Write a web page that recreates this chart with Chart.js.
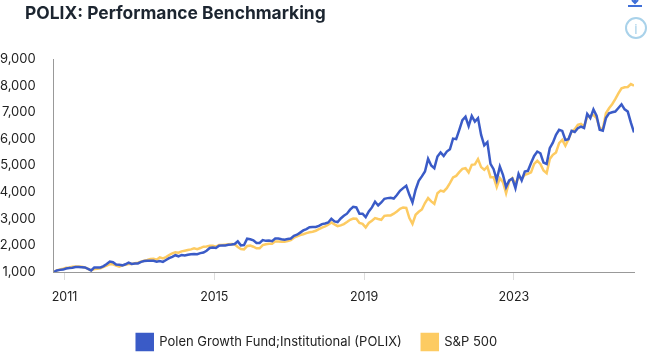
<!DOCTYPE html>
<html>
<head>
<meta charset="utf-8">
<title>POLIX</title>
<script src="https://cdn.jsdelivr.net/npm/chart.js@4"></script>
<style>
  html, body { margin: 0; padding: 0; background: #fff; overflow: hidden; }
  #wrap { position: relative; width: 652px; height: 355px; }
  #chart_title {
    position: absolute; left: 25px; top: 2px;
    font: 700 17.4px/22px Inter, sans-serif; color: #1c2530;
  }
  #downloadIcon { position: absolute; left: 626px; top: -8px; width: 18px; height: 16px; }
  #infoIcon {
    position: absolute; left: 625px; top: 17px; width: 18px; height: 18px;
    border: 2px solid #a9d2ea; border-radius: 50%;
    font: 15px/18px "Open Sans", sans-serif; color: #a9d2ea; text-align: center;
  }
</style>
</head>
<body>
<div id="wrap">
  <canvas id="chart_perf" width="652" height="355"></canvas>
  <div id="chart_title">POLIX: Performance Benchmarking</div>
  <svg id="downloadIcon" viewBox="0 0 18 16">
    <path d="M9 0 V10 M6 8 L9 11 L12 8" stroke="#3f6fd8" stroke-width="2" fill="none"/>
    <path d="M2 14 H16" stroke="#3f6fd8" stroke-width="2"/>
  </svg>
  <div id="infoIcon">i</div>
</div>
<script>
// Values, one per month
const polixValues = [
  1000, 1060, 1080, 1090, 1130, 1150, 1160, 1190, 1190, 1180, 1170, 1120, 1060, 1170, 1170, 1170, 1220, 1300, 1390, 1370,
  1280, 1270, 1250, 1290, 1350, 1300, 1320, 1320, 1380, 1410, 1420, 1420, 1420, 1390, 1410, 1380, 1450, 1520, 1570, 1630,
  1590, 1640, 1620, 1650, 1670, 1680, 1670, 1710, 1730, 1800, 1900, 1920, 1900, 1990, 2000, 2000, 2020, 2030, 2050, 2150,
  2000, 2010, 2250, 2230, 2190, 2090, 2090, 2200, 2170, 2180, 2160, 2260, 2260, 2230, 2210, 2240, 2260, 2360, 2400, 2480,
  2560, 2610, 2680, 2690, 2690, 2730, 2800, 2820, 2860, 3000, 2900, 2875, 3010, 3110, 3190, 3340, 3450, 3425, 3190, 3190,
  3060, 3275, 3425, 3640, 3500, 3610, 3750, 3775, 3790, 3760, 3890, 4050, 4150, 4240, 3900, 3610, 4090, 4425, 4590, 4775,
  5250, 5000, 4900, 5340, 5490, 5360, 5525, 5610, 6010, 5990, 6340, 6700, 6830, 6480, 6860, 6650, 6780, 6150, 5760, 5880,
  5060, 4860, 4460, 4960, 4650, 4190, 4440, 4510, 4150, 4690, 4440, 4775, 4800, 5090, 5360, 5525, 5460, 5110, 5060, 5650,
  5860, 6150, 6340, 6300, 5960, 5990, 6300, 6260, 6400, 6460, 6410, 6940, 6780, 7110, 6875, 6340, 6310, 6780, 6960, 7000,
  7025, 7160, 7300, 7110, 7025, 6610, 6240
];
const sp500Values = [
  1000, 1060, 1100, 1125, 1160, 1170, 1200, 1210, 1210, 1200, 1170, 1120, 1060, 1110, 1125, 1140, 1190, 1240, 1300, 1290,
  1240, 1200, 1250, 1275, 1300, 1300, 1325, 1350, 1390, 1425, 1450, 1490, 1500, 1460, 1550, 1510, 1560, 1640, 1700, 1740,
  1725, 1775, 1800, 1825, 1850, 1890, 1860, 1900, 1950, 1960, 1990, 1990, 1950, 2010, 2010, 2025, 2040, 2050, 2040, 1940,
  1860, 1850, 1975, 1990, 1950, 1890, 1890, 2010, 2040, 2060, 2060, 2150, 2150, 2140, 2140, 2160, 2200, 2290, 2340, 2390,
  2420, 2460, 2490, 2510, 2550, 2610, 2670, 2710, 2775, 2860, 2790, 2725, 2750, 2800, 2875, 2960, 3010, 3000, 2840, 2810,
  2675, 2840, 2925, 3025, 2990, 2960, 3110, 3125, 3125, 3190, 3275, 3375, 3425, 3410, 3025, 2810, 3150, 3260, 3350, 3590,
  3775, 3650, 3560, 3960, 4060, 4025, 4150, 4340, 4550, 4610, 4750, 4875, 4900, 4740, 5025, 5040, 5240, 4940, 4840, 4960,
  4560, 4560, 4190, 4525, 4375, 3960, 4400, 4525, 4310, 4560, 4490, 4650, 4690, 4740, 5060, 5175, 5060, 4810, 4710, 5240,
  5400, 5490, 5840, 5960, 5740, 5990, 6275, 6360, 6525, 6560, 6460, 6840, 6860, 6900, 6775, 6400, 6360, 6960, 7150, 7300,
  7490, 7710, 7900, 7940, 7950, 8060, 8000
];
const tickYears = [2011, 2015, 2019, 2023];
const firstYear = 2010.71; // first point, about Sep 2010
const seriesNames = ['Polen Growth Fund;Institutional (POLIX)', 'S&P 500'];

Chart.defaults.font.family = 'Inter, "Open Sans", sans-serif';
Chart.defaults.color = '#222';

// x is the decimal year of each month
const toPoints = values => values.map((v, i) => ({ x: firstYear + i / 12, y: v }));

const ctx = document.getElementById('chart_perf').getContext('2d');
new Chart(ctx, {
    type: 'line',
    data: {
        datasets: [
            {
                label: seriesNames[0],
                data: toPoints(polixValues),
                borderColor: '#3a5bc7',
                backgroundColor: '#3a5bc7',
                borderWidth: 2.5,
                pointRadius: 0,
                tension: 0,
                order: 1
            },
            {
                label: seriesNames[1],
                data: toPoints(sp500Values),
                borderColor: '#fdcb62',
                backgroundColor: '#fdcb62',
                borderWidth: 2.5,
                pointRadius: 0,
                tension: 0,
                order: 2
            }
        ]
    },
    options: {
        responsive: false,
        animation: false,
        layout: {
            padding: { left: 0, right: 18, top: 59, bottom: -5 }
        },
        scales: {
            x: {
                type: 'linear',
                min: firstYear,
                max: firstYear + (polixValues.length - 1) / 12,
                afterBuildTicks: axis => {
                    axis.ticks = tickYears.map(y => ({ value: y }));
                },
                afterFit: axis => { axis.height = 42; },
                grid: {
                    drawOnChartArea: false,
                    tickColor: '#dddddd',
                    tickLength: 8
                },
                border: { color: '#999999', width: 1 },
                ticks: {
                    autoSkip: false,
                    maxRotation: 0,
                    padding: 10,
                    font: { size: 12.5 },
                    callback: value => String(value)
                }
            },
            y: {
                min: 1000,
                max: 9000,
                afterFit: axis => { axis.width = 53.7; },
                grid: { display: false },
                border: { color: '#999999', width: 1 },
                ticks: {
                    stepSize: 1000,
                    padding: 10,
                    font: { size: 13 },
                    callback: value => value.toLocaleString('en-US')
                }
            }
        },
        plugins: {
            legend: {
                position: 'bottom',
                labels: {
                    boxWidth: 16,
                    boxHeight: 16,
                    padding: 20,
                    font: { size: 13 },
                    color: '#222'
                }
            },
            tooltip: { enabled: false }
        }
    }
});
</script>
</body>
</html>
